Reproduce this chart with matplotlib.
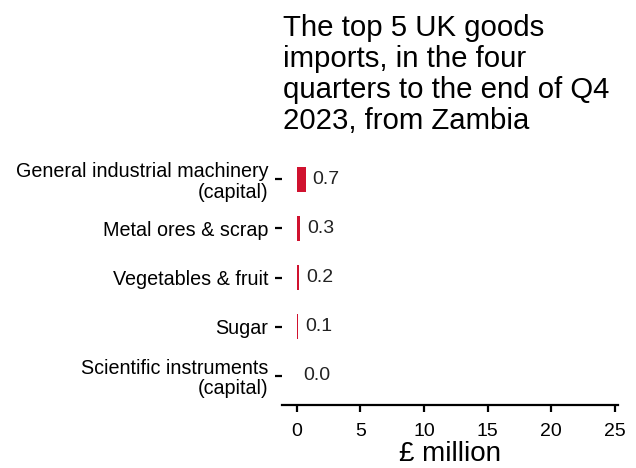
import matplotlib
matplotlib.use("Agg")
import matplotlib.pyplot as plt

plt.rcParams['font.family'] = ['Liberation Sans', 'DejaVu Sans']

categories = ["General industrial machinery\n(capital)", "Metal ores & scrap",
              "Vegetables & fruit", "Sugar", "Scientific instruments\n(capital)"]
values = [0.7, 0.3, 0.2, 0.1, 0.0]
value_labels = ["0.7", "0.3", "0.2", "0.1", "0.0"]
xticks = [0, 5, 10, 15, 20, 25]
title = "The top 5 UK goods\nimports, in the four\nquarters to the end of Q4\n2023, from Zambia"
bar_color = "#d0122f"

fig = plt.figure(figsize=(6.36, 4.68), dpi=100)
ax = fig.add_axes([282/636, 63/468, 336/636, 255/468])

ypos = list(range(len(categories)))
ax.barh(ypos, values, height=0.52, color=bar_color)
for y, v, lab in zip(ypos, values, value_labels):
    ax.annotate(lab, (v, y), xytext=(5, 0), textcoords="offset points",
                ha="left", va="center", fontsize=14, color="#222222")

ax.set_xlim(-1.15, 25.25)
ax.set_ylim(len(categories) - 0.4, -0.6)
ax.set_yticks(ypos)
ax.set_yticklabels(categories, fontsize=14.2, ha="right", linespacing=1.12)
ax.set_xticks(xticks)
ax.set_xticklabels([str(t) for t in xticks], fontsize=14)
ax.set_xlabel("£ million", fontsize=20, labelpad=1)

for s in ["top", "right", "left"]:
    ax.spines[s].set_visible(False)
ax.spines["bottom"].set_linewidth(1.6)
ax.tick_params(axis="y", length=5, width=1.6, pad=5)
ax.tick_params(axis="x", length=5, width=1.6, pad=8)

fig.text(283/636, 1 - 14/468, title, ha="left", va="top", fontsize=21.2, linespacing=1.13)

fig.savefig("out.png", dpi=100)
